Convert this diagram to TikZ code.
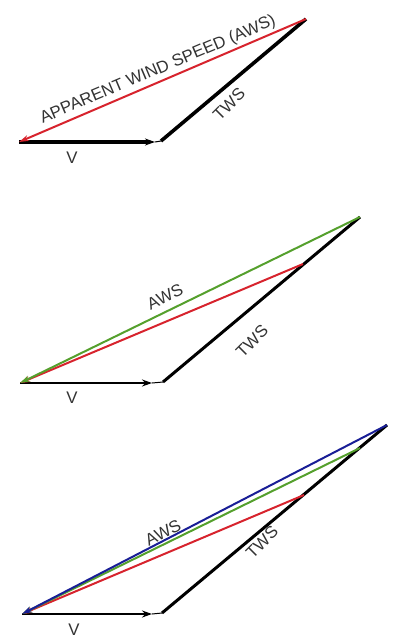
\documentclass[tikz,border=0pt]{standalone}
\usepackage{fontspec}
\setsansfont{Liberation Sans}
\usetikzlibrary{arrows.meta}
\definecolor{Crvena}{RGB}{215,35,45}
\definecolor{Zelena}{RGB}{85,160,45}
\definecolor{Plava}{RGB}{25,30,150}
\tikzset{
  brod/.style     = {-{Stealth[length=5pt, width=3.5pt]}, draw=black, line width=1.4pt},
  veza/.style     = {draw=black, line width=0.5pt},
  pravi/.style    = {draw=black, line width=1.5pt},
  prividni/.style = {-{Stealth[length=5pt, width=3pt]}, line width=1pt},
  oznaka/.style   = {font=\sffamily\fontsize{8.4}{9}\selectfont, inner sep=0pt, text=black!80},
}

\begin{document}
\begin{tikzpicture}[x=0.5pt, y=-0.5pt]
  \useasboundingbox (0,0) rectangle (402,640);
  % --- prvi trokut ---
  \coordinate (o1) at (19,142);
  \coordinate (v1) at (155,142);
  \coordinate (p1) at (161,141);
  \coordinate (a1) at (306,19);

  \draw[brod, line width=2pt] (o1) -- (v1);
  \draw[veza] (v1) -- (p1);
  \draw[pravi, line width=1.8pt] (p1) -- (a1);
  \draw[prividni, draw=Crvena] (a1) -- (o1);

  \node[oznaka, rotate=23] at (158,70) (aws1) {APPARENT WIND SPEED (AWS)};
  \node[oznaka, rotate=45] at (229,104) (tws1) {TWS};
  \node[oznaka] at (72,158) (v1l) {V};

  % --- drugi trokut ---
  \coordinate (o2) at (20,383);
  \coordinate (v2) at (152,383);
  \coordinate (p2) at (163,382);
  \coordinate (r2) at (303,264);
  \coordinate (g2) at (360,217);

  \draw[brod] (o2) -- (v2);
  \draw[veza] (v2) -- (p2);
  \draw[pravi] (p2) -- (g2);
  \draw[prividni, draw=Crvena] (r2) -- (o2);
  \draw[prividni, draw=Zelena] (g2) -- (o2);

  \node[oznaka, rotate=26] at (165,297) (aws2) {AWS};
  \node[oznaka, rotate=45] at (252,341) (tws2) {TWS};
  \node[oznaka] at (72,398) (v2l) {V};

  % --- treci trokut ---
  \coordinate (o3) at (22,614);
  \coordinate (v3) at (152,614);
  \coordinate (p3) at (162,613);
  \coordinate (r3) at (304,495);
  \coordinate (g3) at (360,448);
  \coordinate (b3) at (387,425);

  \draw[brod] (o3) -- (v3);
  \draw[veza] (v3) -- (p3);
  \draw[pravi] (p3) -- (b3);
  \draw[prividni, draw=Crvena] (r3) -- (o3);
  \draw[prividni, draw=Zelena] (g3) -- (o3);
  \draw[prividni, draw=Plava] (b3) -- (o3);

  \node[oznaka, rotate=27] at (163,533) (aws3) {AWS};
  \node[oznaka, rotate=45] at (262,542) (tws3) {TWS};
  \node[oznaka] at (74,630) (v3l) {V};
\end{tikzpicture}
\end{document}
